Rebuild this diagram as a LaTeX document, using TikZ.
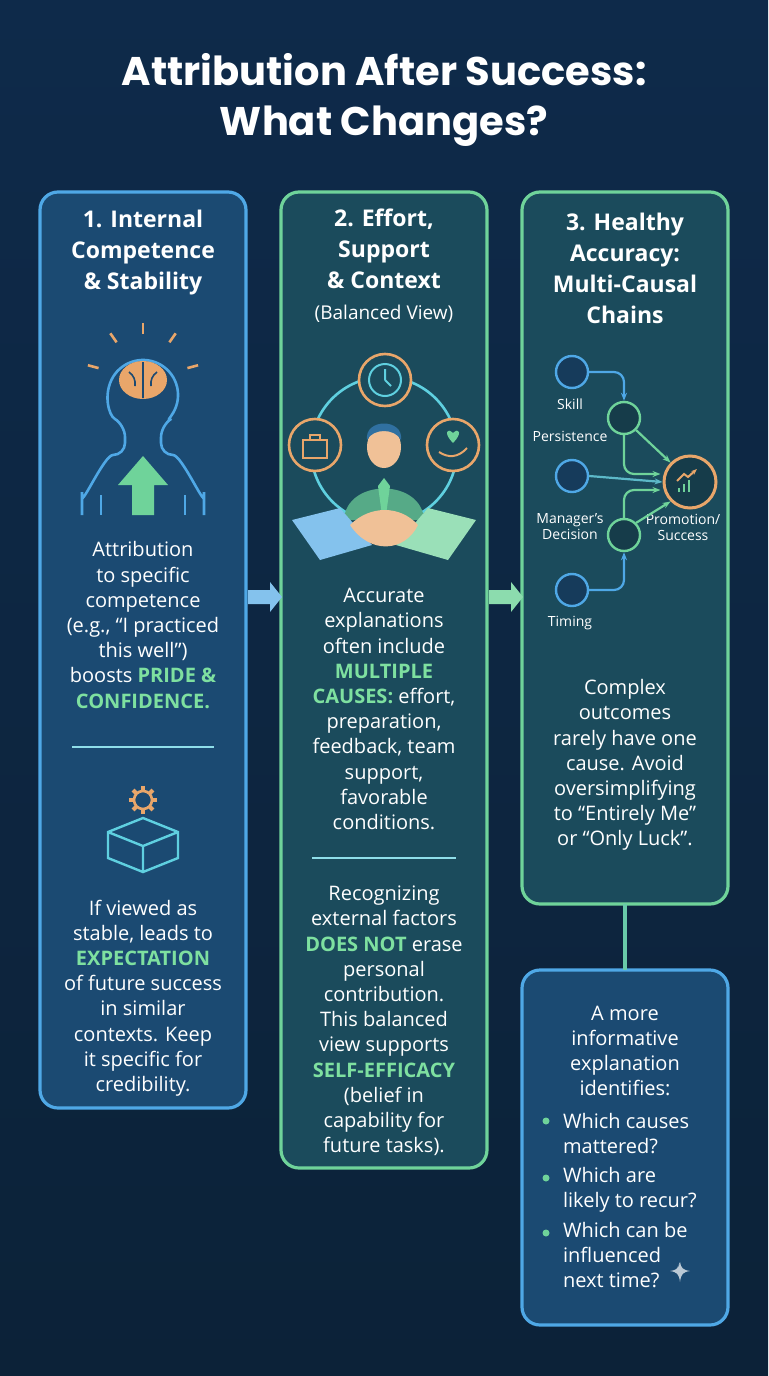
\documentclass[tikz,border=0pt]{standalone}
\usepackage{fontspec}
\setmainfont{Open Sans}
\newfontfamily\titlefont{Poppins}
\usetikzlibrary{positioning,arrows.meta,calc}
\definecolor{bgtop}{HTML}{0E2A4A}
\definecolor{bgbot}{HTML}{0C2238}
\definecolor{pblue}{HTML}{4FA8E6}
\definecolor{pgreen}{HTML}{6FD39A}
\definecolor{fillb}{HTML}{1B4A72}
\definecolor{fillg}{HTML}{1B4B5C}
\definecolor{hlgreen}{HTML}{7EE0A0}
\definecolor{iorange}{HTML}{E9A66A}
\definecolor{icyan}{HTML}{5FD0E0}
\newcommand{\hl}[1]{\textbf{\color{hlgreen}#1}}
\tikzset{
  panelB/.style={draw=pblue,line width=1.6pt,rounded corners=9pt,fill=fillb},
  panelG/.style={draw=pgreen,line width=1.6pt,rounded corners=9pt,fill=fillg},
  head/.style={text=white,align=center,font=\fontsize{11.5}{15.5}\selectfont\bfseries},
  body/.style={text=white,align=center,font=\fontsize{10}{12.6}\selectfont},
  lbl/.style={text=white,align=center,font=\fontsize{7}{8}\selectfont},
  bluec/.style={circle,draw=pblue,line width=1.2pt,fill=fillb!80!black,minimum size=16pt,inner sep=0pt},
  greenc/.style={circle,draw=pgreen,line width=1.2pt,fill=fillg!80!black,minimum size=16pt,inner sep=0pt},
  flow/.style={-{Stealth[length=4pt]},line width=1.1pt,rounded corners=5pt},
  divider/.style={line width=0.8pt,icyan!70}
}
\begin{document}
\begin{tikzpicture}[x=0.5pt,y=-0.5pt]
% background
\shade[top color=bgtop,bottom color=bgbot] (0,0) rectangle (768,1376);
\useasboundingbox (0,0) rectangle (768,1376);
\node[text=white,align=center,font=\titlefont\fontsize{20}{25}\selectfont\bfseries] (title) at (384,100)
  {Attribution After Success:\\What Changes?};

% panels
\draw[panelB] (40,192) rectangle (246,1108);
\draw[panelG] (281,192) rectangle (487,1168);
\draw[panelG] (522,192) rectangle (728,904);
\draw[panelB] (522,970) rectangle (728,1325);
\coordinate (p3s) at (625,904);
\coordinate (p4n) at (625,970);
\draw[pgreen!80!pblue,line width=1.6pt] (p3s) -- (p4n);

% arrows between panels
\coordinate (a1) at (248,597); \coordinate (a2) at (282,597);
\coordinate (b1) at (489,597); \coordinate (b2) at (523,597);
\fill[pblue!70] ($(a1)+(0,-7)$) -- ($(a2)+(-12,-7)$) -- ($(a2)+(-12,-15)$) -- (a2) -- ($(a2)+(-12,15)$) -- ($(a2)+(-12,7)$) -- ($(a1)+(0,7)$) -- cycle;
\fill[pgreen!80] ($(b1)+(0,-7)$) -- ($(b2)+(-12,-7)$) -- ($(b2)+(-12,-15)$) -- (b2) -- ($(b2)+(-12,15)$) -- ($(b2)+(-12,7)$) -- ($(b1)+(0,7)$) -- cycle;

% panel 1
\node[head] (h1) at (143,253) {1. Internal\\Competence\\\& Stability};
\draw[pblue,line width=1.3pt,rounded corners=6pt] (82,515) -- (82,485) to[out=270,in=180] (125,455) -- (125,425)
  arc[start angle=121,end angle=419,radius=35] -- (161,455) to[out=0,in=270] (204,485) -- (204,515);
\draw[pblue,line width=1.3pt] (101,495) -- (101,515) (185,495) -- (185,515);
\fill[iorange] (143,380) ellipse (24 and 19);
\draw[fillb,line width=0.8pt] (143,362) -- (143,398) (129,372) to[bend left] (135,386) (157,372) to[bend right] (151,386);
\foreach \a in {-90,-55,-125,-15,195}
  \draw[iorange,line width=1.3pt] ($(143,380)+(\a:46)$) -- ($(143,380)+(\a:57)$);
\fill[pgreen] (143,456) -- (168,485) -- (154,485) -- (154,515) -- (132,515) -- (132,485) -- (118,485) -- cycle;
\node[body] (t1) at (143,625) {Attribution\\to specific\\competence\\(e.g., “I practiced\\this well”)\\boosts \hl{PRIDE \&}\\\hl{CONFIDENCE.}};
\draw[divider] (72,747) -- (214,747);
\draw[icyan,line width=1.2pt] (108,832) -- (143,818) -- (178,832) -- (178,858) -- (143,872) -- (108,858) -- cycle (108,832) -- (143,846) -- (178,832) (143,846) -- (143,872);
\draw[iorange,line width=1.3pt] (143,800) circle (9);
\foreach \a in {0,45,...,315}
  \draw[iorange,line width=2pt] ($(143,800)+(\a:9)$) -- ($(143,800)+(\a:14)$);
\node[body] (t2) at (143,998) {If viewed as\\stable, leads to\\\hl{EXPECTATION}\\of future success\\in similar\\contexts. Keep\\it specific for\\credibility.};

% panel 2
\node[head] (h2) at (384,266) {2. Effort,\\Support\\\& Context\\{\normalfont\fontsize{9.5}{12}\selectfont(Balanced View)}};
\draw[icyan,line width=1.3pt] (384,450) circle (73);
\foreach \p/\n in {{(385,380)}/clk,{(315,445)}/brf,{(453,445)}/hrt}
  \node[circle,draw=iorange,line width=1.3pt,fill=fillg,minimum size=26pt] (\n) at \p {};
\draw[icyan,line width=1pt] (clk) circle (16) (clk.center) -- ++(0,-11) (clk.center) -- ++(6,6);
\draw[iorange,line width=1pt] (303,440) rectangle (327,458) (310,440) -- (310,435) -- (320,435) -- (320,440);
\fill[pgreen] (453,443) .. controls (443,433) and (447,427) .. (453,433) .. controls (459,427) and (463,433) .. (453,443);
\draw[iorange,line width=1pt] (439,452) .. controls (448,458) and (458,458) .. (467,448);
\fill[iorange!70!white] (384,447) ellipse (17 and 21);
\fill[fillb!60!pblue] (367,440) .. controls (364,418) and (404,418) .. (401,440) .. controls (395,428) and (373,428) .. (367,440);
\fill[pgreen!70!fillg] (344,520) .. controls (346,478) and (422,478) .. (424,520) -- cycle;
\fill[pgreen] (384,478) -- (390,486) -- (386,515) -- (382,515) -- (378,486) -- cycle;
\fill[pblue!70] (292,520) -- (340,508) -- (372,545) -- (320,560) -- cycle;
\fill[pgreen!70] (476,520) -- (428,508) -- (396,545) -- (448,560) -- cycle;
\fill[iorange!70!white] (350,525) .. controls (370,505) and (400,505) .. (418,525) .. controls (405,552) and (370,555) .. (350,525);
\node[body] (t3) at (384,709) {Accurate\\explanations\\often include\\\hl{MULTIPLE}\\\hl{CAUSES:} effort,\\preparation,\\feedback, team\\support,\\favorable\\conditions.};
\draw[divider] (312,858) -- (456,858);
\node[body] (t4) at (384,1021) {Recognizing\\external factors\\\hl{DOES NOT} erase\\personal\\contribution.\\This balanced\\view supports\\\hl{SELF-EFFICACY}\\(belief in\\capability for\\future tasks).};

% panel 3
\node[head] (h3) at (625,268) {3. Healthy\\Accuracy:\\Multi-Causal\\Chains};
\node[bluec] (skill) at (572,372) {};
\node[bluec] (mgr) at (572,476) {};
\node[bluec] (tim) at (572,590) {};
\node[greenc] (g1) at (624,418) {};
\node[greenc] (g2) at (624,535) {};
\node[circle,draw=iorange,line width=1.5pt,fill=fillg!80!black,minimum size=26pt] (res) at (690,482) {};
\draw[pgreen,line width=1pt] (679,492) -- (679,488) (684,492) -- (684,484) (689,492) -- (689,480);
\draw[iorange,line width=1pt,-{Stealth[length=3pt]}] (677,481) -- (684,474) -- (688,477) -- (697,469);
\node[lbl] (lskill) at (570,404) {Skill};
\node[lbl] (lpers) at (570,436) {Persistence};
\node[lbl] (lmgr) at (570,527) {Manager's\\Decision};
\node[lbl] (ltim) at (570,623) {Timing};
\node[lbl] (lres) at (683,527) {Promotion/\\Success};
\draw[flow,pblue] (skill.east) -| (g1.north);
\draw[flow,pgreen] (g1.south east) -- (res.north west);
\draw[flow,pgreen] (g1.south) |- ($(res.west)+(-2,-8)$);
\draw[flow,pblue!60!pgreen] (mgr.east) -- (res.west);
\draw[flow,pgreen] (g2.north) |- ($(res.west)+(-2,8)$);
\draw[flow,pgreen] (g2.north east) -- (res.south west);
\draw[flow,pblue] (tim.east) -| (g2.south);
\node[body] (t5) at (625,765) {Complex\\outcomes\\rarely have one\\cause. Avoid\\oversimplifying\\to “Entirely Me”\\or “Only Luck”.};

% panel 4
\node[body] (t6) at (625,1051) {A more\\informative\\explanation\\identifies:};
\node[body,align=left,anchor=north west] (t7) at (556,1106) {Which causes\\mattered?\\[2pt]Which are\\likely to recur?\\[2pt]Which can be\\influenced\\next time?};
\foreach \y in {1121,1178,1233}
  \fill[pgreen] (546,\y) circle (3.5);
\fill[white!70!fillb] (676,1270) -- (680,1262) .. controls (681,1268) and (683,1270) .. (690,1271) .. controls (683,1272) and (681,1274) .. (680,1282) .. controls (679,1274) and (677,1272) .. (670,1271) .. controls (677,1270) and (679,1268) .. (680,1262) -- cycle;
\end{tikzpicture}
\end{document}
